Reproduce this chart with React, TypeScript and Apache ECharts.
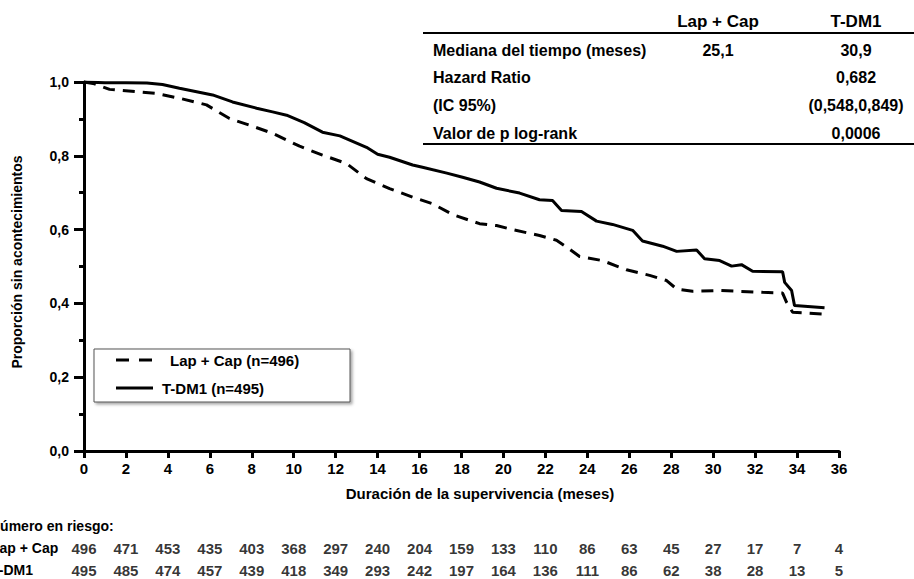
import React, { useEffect, useRef } from "react";
import * as echarts from "echarts";

// Kaplan-Meier curves: [months, proportion]
const tdm1Curve: [number, number][] = [
  [0, 1.0], [1, 0.998], [2, 0.998], [3, 0.997], [3.74, 0.993], [4.55, 0.983],
  [6.13, 0.965], [7.08, 0.946], [8.23, 0.929], [8.99, 0.919], [9.66, 0.91],
  [10.5, 0.89], [11.37, 0.864], [12.2, 0.854], [13.47, 0.823], [14.0, 0.804],
  [14.57, 0.796], [15.67, 0.775], [16.14, 0.769], [17.3, 0.753], [18.05, 0.742],
  [18.86, 0.729], [19.67, 0.712], [20.77, 0.699], [21.72, 0.681], [22.34, 0.679],
  [22.77, 0.652], [23.72, 0.649], [24.44, 0.623], [25.2, 0.614], [26.16, 0.598],
  [26.63, 0.569], [27.59, 0.555], [28.26, 0.541], [29.21, 0.545], [29.59, 0.521],
  [30.31, 0.516], [30.88, 0.501], [31.35, 0.505], [31.88, 0.487], [33.31, 0.486],
  [33.41, 0.457], [33.74, 0.435], [33.88, 0.394], [35.31, 0.388],
];

const lapCapCurve: [number, number][] = [
  [0, 1.0], [0.5, 0.995], [1.22, 0.98], [3.46, 0.969], [4.55, 0.956],
  [5.84, 0.938], [6.94, 0.901], [7.89, 0.883], [8.99, 0.861], [10.28, 0.826],
  [11.37, 0.802], [12.52, 0.779], [13.47, 0.738], [14.57, 0.711], [15.67, 0.688],
  [16.62, 0.67], [17.57, 0.641], [18.86, 0.616], [19.67, 0.611], [20.43, 0.6],
  [21.72, 0.584], [22.53, 0.571], [23.01, 0.553], [23.63, 0.527], [24.72, 0.516],
  [25.87, 0.491], [26.97, 0.476], [27.78, 0.462], [28.26, 0.439], [29.02, 0.433],
  [30.31, 0.435], [32.36, 0.43], [33.31, 0.428], [33.5, 0.403], [33.79, 0.376],
  [35.31, 0.371],
];

// Number at risk
const riskTimes = [0, 2, 4, 6, 8, 10, 12, 14, 16, 18, 20, 22, 24, 26, 28, 30, 32, 34, 36];
const riskLapCap = [496, 471, 453, 435, 403, 368, 297, 240, 204, 159, 133, 110, 86, 63, 45, 27, 17, 7, 4];
const riskTdm1 = [495, 485, 474, 457, 439, 418, 349, 293, 242, 197, 164, 136, 111, 86, 62, 38, 28, 13, 5];

// Summary table
const tableHeaders = ["Lap + Cap", "T-DM1"];
const tableRowLabels = ["Mediana del tiempo (meses)", "Hazard Ratio", "(IC 95%)", "Valor de p log-rank"];
const tableLapCap = ["25,1", "", "", ""];
const tableTdm1 = ["30,9", "0,682", "(0,548,0,849)", "0,0006"];

const seriesNames = ["Lap + Cap (n=496)", "T-DM1 (n=495)"];
const riskRowLabels = ["Lap + Cap", "T-DM1"];

const FONT = "'Liberation Sans', Arial, Helvetica, sans-serif";

export default function App() {
  const ref = useRef<HTMLDivElement>(null);

  useEffect(() => {
    if (!ref.current) return;
    const chart = echarts.init(ref.current, undefined, { renderer: "svg" });

    const txt = (text: string, x: number, y: number, size: number, align: string = "left") => ({
      type: "text",
      x, y,
      style: { text, font: `bold ${size}px ${FONT}`, fill: "#000", align, verticalAlign: "middle" },
    });

    const graphic: any[] = [];
    // top-right summary table
    graphic.push(txt(tableHeaders[0], 718, 21, 17, "center"));
    graphic.push(txt(tableHeaders[1], 856, 21, 17, "center"));
    graphic.push({ type: "line", shape: { x1: 423, y1: 33, x2: 914, y2: 33 }, style: { stroke: "#000", lineWidth: 2 } });
    graphic.push({ type: "line", shape: { x1: 423, y1: 144, x2: 914, y2: 144 }, style: { stroke: "#000", lineWidth: 2 } });
    const rowY = [50, 77, 105, 133];
    tableRowLabels.forEach((lab, i) => {
      graphic.push(txt(lab, 433, rowY[i], 16));
      if (tableLapCap[i]) graphic.push(txt(tableLapCap[i], 718, rowY[i], 16, "center"));
      if (tableTdm1[i]) graphic.push(txt(tableTdm1[i], 856, rowY[i], 16, "center"));
    });

    // legend box
    graphic.push({
      type: "rect",
      shape: { x: 94, y: 349, width: 256, height: 53 },
      style: {
        fill: "#fff", stroke: "#555", lineWidth: 1,
        shadowBlur: 3, shadowOffsetX: 2, shadowOffsetY: 2, shadowColor: "rgba(0,0,0,0.35)",
      },
    });
    graphic.push({
      type: "line", shape: { x1: 116, y1: 360, x2: 152, y2: 360 },
      style: { stroke: "#000", lineWidth: 3, lineDash: [13, 10] },
    });
    graphic.push({
      type: "line", shape: { x1: 116, y1: 388, x2: 153, y2: 388 },
      style: { stroke: "#000", lineWidth: 3 },
    });
    graphic.push(txt(seriesNames[0], 170, 360, 15));
    graphic.push(txt(seriesNames[1], 162, 388, 15));

    // axis titles
    graphic.push({
      type: "text", x: 17, y: 262, rotation: Math.PI / 2,
      style: { text: "Proporción sin acontecimientos", font: `bold 14px ${FONT}`, fill: "#000", align: "center", verticalAlign: "middle" },
    });
    graphic.push(txt("Duración de la supervivencia (meses)", 480, 493, 15, "center"));

    // risk table labels (cut at the left edge, as in the reference)
    graphic.push(txt("Número en riesgo:", -10, 526, 14));
    graphic.push(txt(riskRowLabels[0], -9, 548, 14));
    graphic.push(txt(riskRowLabels[1], -9, 570, 14));

    const riskSeries = (vals: number[], row: number) => ({
      type: "scatter",
      xAxisIndex: 1,
      yAxisIndex: 1,
      symbolSize: 1,
      itemStyle: { color: "rgba(0,0,0,0)" },
      silent: true,
      data: riskTimes.map((t, i) => [t, row, vals[i]]),
      label: {
        show: true,
        position: "inside",
        formatter: (p: any) => String(p.value[2]),
        fontSize: 15,
        fontWeight: "bold",
        color: "#000",
        fontFamily: FONT,
      },
    });

    chart.setOption({
      animation: false,
      textStyle: { fontFamily: FONT },
      grid: [
        { left: 84, right: 75, top: 82, bottom: 128, containLabel: false },
        { left: 84, right: 75, top: 548, height: 22, containLabel: false },
      ],
      xAxis: [
        {
          type: "value",
          min: 0, max: 36, interval: 2,
          axisLine: { show: true, lineStyle: { color: "#000", width: 3 } },
          axisTick: { show: true, length: 7, lineStyle: { color: "#000", width: 3 } },
          axisLabel: { margin: 10, fontSize: 15, fontWeight: "bold", color: "#000", fontFamily: FONT },
          splitLine: { show: false },
        },
        {
          type: "value", gridIndex: 1, min: 0, max: 36, interval: 2,
          show: false,
        },
      ],
      yAxis: [
        {
          type: "value",
          min: 0, max: 1, interval: 0.2,
          axisLine: { show: true, lineStyle: { color: "#000", width: 3 } },
          axisTick: { show: true, length: 10, lineStyle: { color: "#000", width: 3 } },
          minorTick: { show: true, splitNumber: 2, length: 5, lineStyle: { color: "#000", width: 3 } },
          axisLabel: {
            margin: 15, fontSize: 14, fontWeight: "bold", color: "#000", fontFamily: FONT,
            formatter: (v: number) => v.toFixed(1).replace(".", ","),
          },
          splitLine: { show: false },
        },
        { type: "value", gridIndex: 1, min: 0, max: 1, show: false },
      ],
      series: [
        {
          name: seriesNames[0],
          type: "line",
          data: lapCapCurve,
          showSymbol: false,
          symbol: "none",
          lineStyle: { color: "#000", width: 3, type: [12, 8] },
          z: 3,
        },
        {
          name: seriesNames[1],
          type: "line",
          data: tdm1Curve,
          showSymbol: false,
          symbol: "none",
          lineStyle: { color: "#000", width: 3, type: "solid" },
          z: 4,
        },
        riskSeries(riskLapCap, 1),
        riskSeries(riskTdm1, 0),
      ],
      graphic,
    });

    return () => chart.dispose();
  }, []);

  return (
    <div
      ref={ref}
      style={{ position: "absolute", left: 0, top: 0, width: 914, height: 579, background: "#fff" }}
    />
  );
}
